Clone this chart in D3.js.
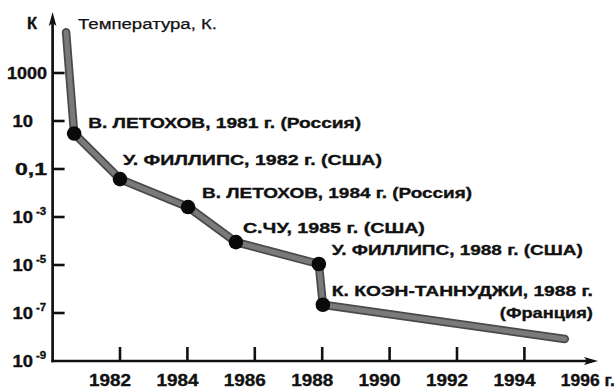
<!DOCTYPE html>
<html>
<head>
<meta charset="utf-8">
<script src="https://cdn.jsdelivr.net/npm/d3@7/dist/d3.min.js"></script>
<style>
  html, body { margin: 0; padding: 0; background: #fff; }
  svg { display: block; }
  text { font-family: "Liberation Sans", Arial, sans-serif; fill: #111; }
  .heavy { stroke: #111; stroke-width: 0.35; }
</style>
</head>
<body>
<svg id="chart" width="616" height="389"></svg>
<script>
// Record-low temperatures reached by laser cooling, by year
const years = [1980.4, 1980.64, 1982.0, 1984.02, 1985.44, 1987.9, 1988.02, 1995.2];
const temps = [5e4, 3, 0.038, 2.6e-3, 9e-5, 1.1e-5, 2.2e-7, 8.3e-9];

// Points that carry an achievement marker, and their captions
const markedIdx = [1, 2, 3, 4, 5, 6];
const captions = [
  "В. ЛЕТОХОВ, 1981 г.  (Россия)",
  "У. ФИЛЛИПС, 1982 г.  (США)",
  "В. ЛЕТОХОВ, 1984 г. (Россия)",
  "С.ЧУ, 1985 г.  (США)",
  "У. ФИЛЛИПС, 1988 г.  (США)",
  "К. КОЭН-ТАННУДЖИ, 1988 г."
];
const captionExtra = "(Франция)";

// Axis ticks
const yTicks = [1e3, 10, 0.1, 1e-3, 1e-5, 1e-7, 1e-9];
const yTickBase = ["1000", "10", "0,1", "10", "10", "10", "10"];
const yTickExp = ["", "", "", "-3", "-5", "-7", "-9"];
const xTicks = [1982, 1984, 1986, 1988, 1990, 1992, 1994];
const xLastLabel = 1996;
const xUnit = "г.";

const svg = d3.select("#chart");

const x = d3.scaleLinear().domain([1980, 1996]).range([52.6, 591.8]);
const y = d3.scaleLog().domain([1e-9, 1e3]).range([361, 73]);

const x0 = x(1980), y0 = y(1e-9);

// ---- axes ----
const axis = svg.append("g").attr("stroke", "#111").attr("fill", "none");
axis.append("line").attr("x1", x0).attr("x2", x0).attr("y1", y0 + 1.3).attr("y2", 22)
  .attr("stroke-width", 2.7);
axis.append("line").attr("x1", x0 - 1.3).attr("x2", 588).attr("y1", y0).attr("y2", y0)
  .attr("stroke-width", 2.7);
// arrow heads
svg.append("path").attr("fill", "#111")
  .attr("d", `M${x0},12 L${x0 + 3.8},26 L${x0},23 L${x0 - 3.8},26 Z`);
svg.append("path").attr("fill", "#111")
  .attr("d", `M598,${y0} L584,${y0 - 4} L587,${y0} L584,${y0 + 4} Z`);

// y ticks (pointing inward)
axis.selectAll("line.yt").data(yTicks.slice(0, -1)).join("line")
  .attr("class", "yt")
  .attr("x1", x0).attr("x2", x0 + 12)
  .attr("y1", d => y(d)).attr("y2", d => y(d))
  .attr("stroke-width", 2.6);

// x ticks (pointing upward)
axis.selectAll("line.xt").data(xTicks).join("line")
  .attr("class", "xt")
  .attr("x1", d => x(d)).attr("x2", d => x(d))
  .attr("y1", y0).attr("y2", y0 - 14)
  .attr("stroke-width", 2.6);

// y tick labels
const yl = svg.append("g").attr("font-weight", "bold").attr("font-size", 16).attr("class", "heavy");
yTicks.forEach((v, i) => {
  const base = yTickBase[i], exp = yTickExp[i];
  const ty = y(v) + 6;
  if (exp === "" && base !== "10") {
    yl.append("text").attr("x", 47).attr("y", ty).attr("text-anchor", "end")
      .attr("textLength", base === "1000" ? 40 : 32).attr("lengthAdjust", "spacingAndGlyphs")
      .text(base);
  } else {
    yl.append("text").attr("x", 12.5).attr("y", ty)
      .attr("textLength", 20.5).attr("lengthAdjust", "spacingAndGlyphs").text(base);
    if (exp) {
      yl.append("text").attr("x", 36).attr("y", ty - 8).attr("font-size", 11.5)
        .text(exp);
    }
  }
});

// x tick labels
const xl = svg.append("g").attr("font-weight", "bold").attr("font-size", 16.5).attr("class", "heavy");
xl.selectAll("text").data(xTicks).join("text")
  .attr("x", d => x(d) - 31).attr("y", 386)
  .attr("textLength", 42).attr("lengthAdjust", "spacingAndGlyphs")
  .text(d => d);
xl.append("text").attr("x", x(xLastLabel) - 31).attr("y", 386)
  .attr("textLength", 54).attr("lengthAdjust", "spacingAndGlyphs")
  .text(`${xLastLabel} ${xUnit}`);

// axis titles
svg.append("text").attr("x", 27).attr("y", 29).attr("font-weight", "bold")
  .attr("font-size", 16.5).attr("class", "heavy").text("К");
svg.append("text").attr("x", 78).attr("y", 29).attr("font-size", 15.5)
  .attr("textLength", 139).attr("lengthAdjust", "spacingAndGlyphs")
  .attr("stroke", "#111").attr("stroke-width", 0.25)
  .text("Температура, К.");

// ---- record curve ----
const pts = years.map((yr, i) => [x(yr), y(temps[i])]);
const line = d3.line();
svg.append("path").attr("d", line(pts)).attr("fill", "none")
  .attr("stroke", "#4a4a4a").attr("stroke-width", 8.5)
  .attr("stroke-linecap", "round").attr("stroke-linejoin", "round");
svg.append("path").attr("d", line(pts)).attr("fill", "none")
  .attr("stroke", "#7a7a7a").attr("stroke-width", 5)
  .attr("stroke-linecap", "round").attr("stroke-linejoin", "round");

// markers
svg.append("g").selectAll("circle").data(markedIdx).join("circle")
  .attr("cx", i => x(years[i])).attr("cy", i => y(temps[i]))
  .attr("r", 7.3).attr("fill", "#0a0a0a");

// captions, placed beside their markers
const capDx = [14, 3, 14, 7, 13, 9];
const capDy = [-6, -14, -9, -9, -9, -9];
const capW = [273, 259, 270, 182, 251, 261];
const cg = svg.append("g").attr("font-weight", "bold").attr("font-size", 15).attr("class", "heavy");
markedIdx.forEach((idx, k) => {
  cg.append("text")
    .attr("x", x(years[idx]) + capDx[k]).attr("y", y(temps[idx]) + capDy[k])
    .attr("textLength", capW[k]).attr("lengthAdjust", "spacingAndGlyphs")
    .text(captions[k]);
});
const last = markedIdx[markedIdx.length - 1];
cg.append("text")
  .attr("x", x(years[last]) + 270).attr("y", y(temps[last]) + 13)
  .attr("text-anchor", "end")
  .attr("textLength", 93).attr("lengthAdjust", "spacingAndGlyphs")
  .text(captionExtra);
</script>
</body>
</html>
